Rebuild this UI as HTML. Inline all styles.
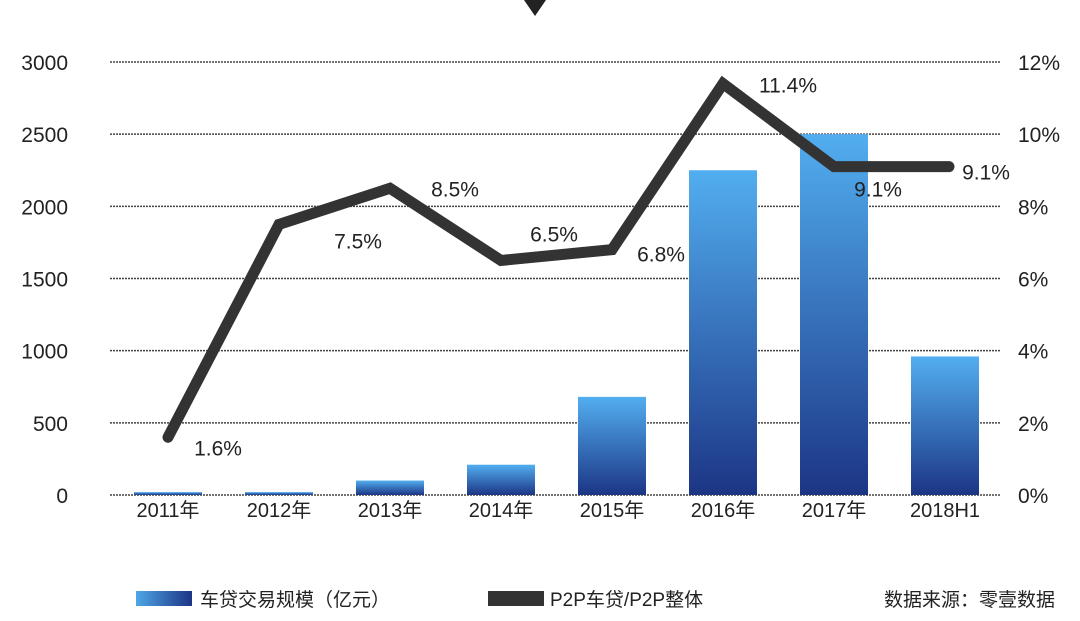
<!DOCTYPE html>
<html><head><meta charset="utf-8"><style>
body{margin:0;background:#fff;}
svg text{font-family:"Liberation Sans","Noto Sans CJK SC",sans-serif;fill:#222;}
</style></head><body>
<svg width="1080" height="616" xmlns="http://www.w3.org/2000/svg">
<defs><linearGradient id="bg" x1="0" y1="0" x2="0" y2="1"><stop offset="0" stop-color="#52aef0"/><stop offset="1" stop-color="#1c3585"/></linearGradient>
<linearGradient id="lg" x1="0" y1="0" x2="1" y2="0"><stop offset="0" stop-color="#4fa6e6"/><stop offset="1" stop-color="#1c3585"/></linearGradient></defs>
<polygon points="524,0 546,0 535,16" fill="#222"/>
<g id="grid"></g><g id="bars"></g><g id="line"></g><g id="labels"></g>
<g>
<rect x="136" y="591" width="56" height="15" fill="url(#lg)"/>
<text x="200" y="606" font-size="19" fill="#333">车贷交易规模（亿元）</text>
<rect x="488" y="591" width="56" height="15" fill="#333"/>
<text x="550" y="606" font-size="19" fill="#333">P2P车贷/P2P整体</text>
<text x="1055" y="606" font-size="19" text-anchor="end" fill="#333">数据来源：零壹数据</text>
</g>
</svg>
<script>
const categories=["2011年","2012年","2013年","2014年","2015年","2016年","2017年","2018H1"];
const volumes=[20,20,100,210,680,2250,2500,960];
const shares=[1.6,7.5,8.5,6.5,6.8,11.4,9.1,9.1];
const leftTicks=[0,500,1000,1500,2000,2500,3000];
const rightTicks=[0,2,4,6,8,10,12];
const NS="http://www.w3.org/2000/svg";
const y0=495,y1=62;
const yL=v=>y0-(v/3000)*(y0-y1);
const yR=v=>y0-(v/12)*(y0-y1);
const xC=i=>168+i*111;
function mk(t,a,p){const e=document.createElementNS(NS,t);for(const k in a)e.setAttribute(k,a[k]);p.appendChild(e);return e;}
const g=document.getElementById('grid');
leftTicks.forEach((t,i)=>{
 const l=mk('line',{x1:110,x2:1000,y1:yL(t),y2:yL(t),stroke:'#444','stroke-width':1.5,'stroke-dasharray':'2,1'},g);
 
 
 const a=mk('text',{x:68,y:yL(t)+8,'font-size':21,'text-anchor':'end'},g);a.textContent=t;
 
 
});
rightTicks.forEach(t=>{
 const a=mk('text',{x:1018,y:yR(t)+8,'font-size':21},g);a.textContent=t+'%';
 
 
});
const b=document.getElementById('bars');
categories.forEach((c,i)=>{
 const r=mk('rect',{x:xC(i)-34,y:yL(volumes[i]),width:68,height:y0-yL(volumes[i]),fill:'url(#bg)'},b);
 
 
 const t=mk('text',{x:xC(i),y:517,'font-size':20,'text-anchor':'middle'},b);t.textContent=c;
 
 
});
const pts=shares.map((s,i)=>[i===shares.length-1?xC(i)+4:xC(i),yR(s)]);
const pl=mk('polyline',{points:pts.map(p=>p.join(',')).join(' '),fill:'none',stroke:'#333','stroke-width':11,'stroke-linejoin':'miter','stroke-linecap':'round'},document.getElementById('line'));


const off=[[50,10],[79,16],[65,0],[53,-27],[49,4],[65,1],[44,22],[37,5]];
const lg=document.getElementById('labels');
shares.forEach((s,i)=>{
 const t=mk('text',{x:pts[i][0]+off[i][0],y:pts[i][1]+off[i][1]+8,'font-size':21,'text-anchor':'middle'},lg);
 t.textContent=s.toFixed(1)+'%';
 
 
});
</script>
</body></html>
